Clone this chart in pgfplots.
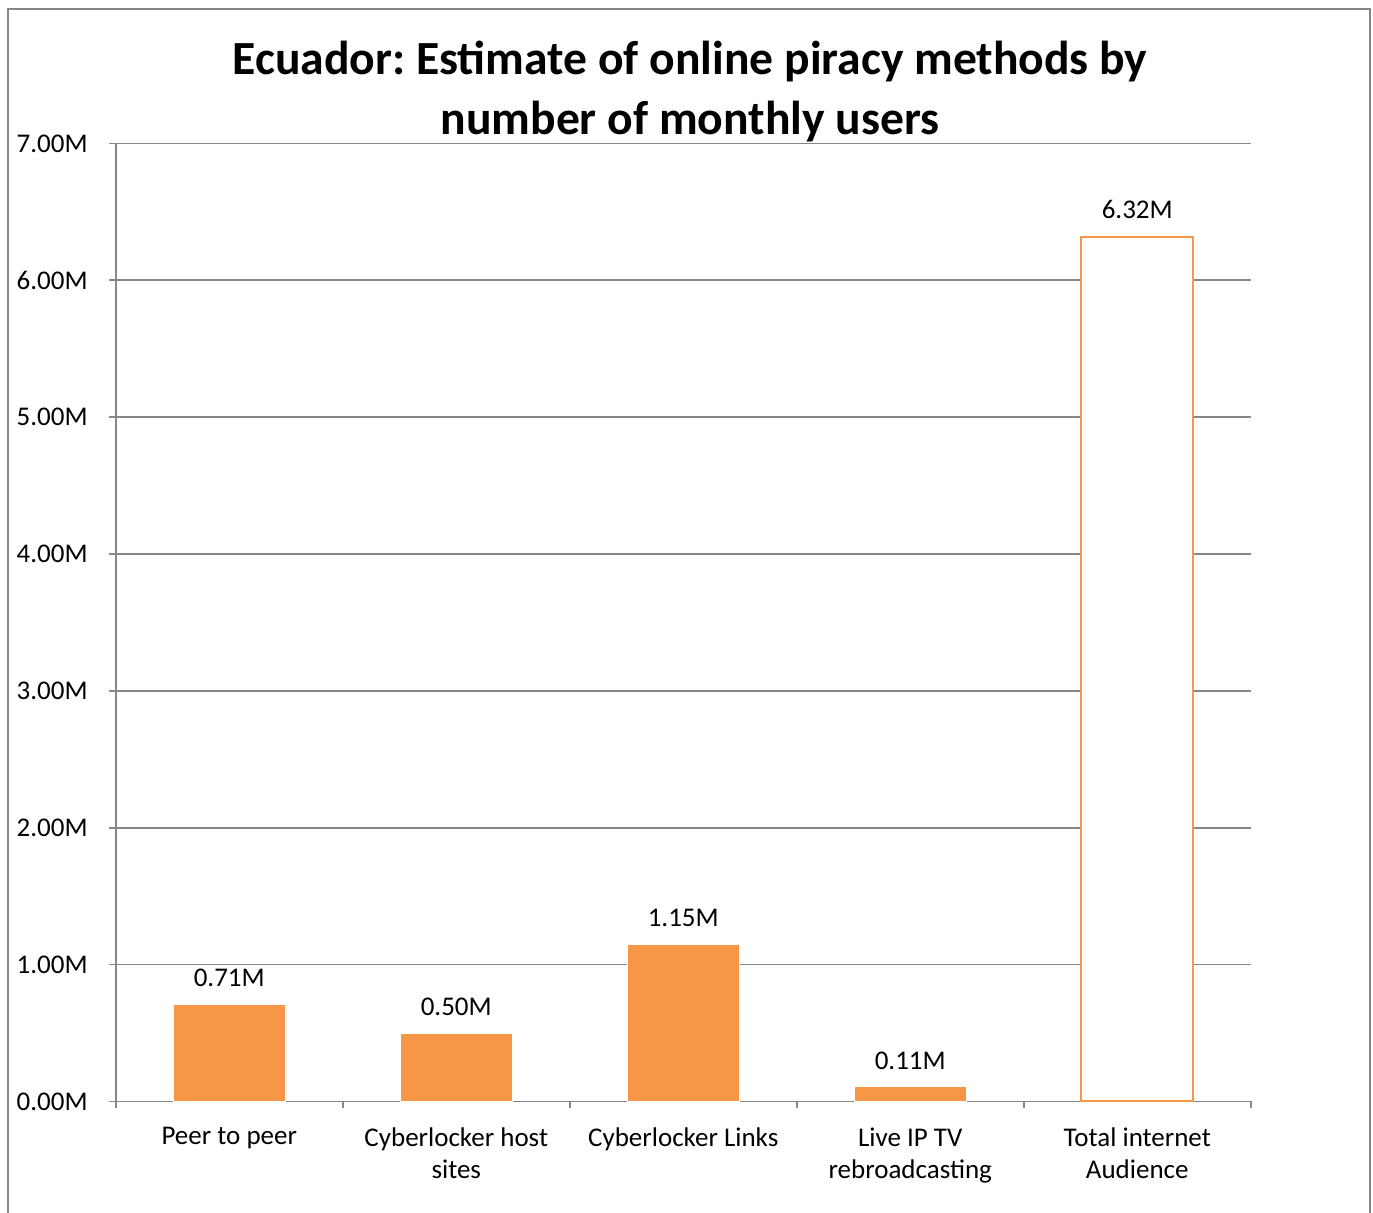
\documentclass[border=0pt]{standalone}
\usepackage{pgfplots}
\pgfplotsset{compat=1.18}
\usepackage{fontspec}
\setmainfont{Carlito}
\frenchspacing
\definecolor{barorange}{HTML}{F79646}
\definecolor{gridgray}{HTML}{878787}
\begin{document}
\begin{tikzpicture}[x=1pt,y=1pt]
\path[use as bounding box] (0,0) rectangle (686.5,606.5);
\draw[gridgray, line width=0.8pt] (4,0) -- (4,602) -- (685,602) -- (685,0);
\node[font=\bfseries\fontsize{23.8}{30}\selectfont, align=center] at (345,560.5) {Ecuador: Estimate of online piracy methods by\\number of monthly users};
\begin{axis}[
  at={(51,81.5)}, anchor=south west,
  scale only axis, width=567.5pt, height=479pt,
  xmin=-0.5, xmax=4.5, ymin=0, ymax=7,
  ytick={0,1,2,3,4,5,6,7},
  yticklabel={\pgfmathprintnumber[fixed,fixed zerofill,precision=2]{\tick}M},
  /pgf/number format/assume math mode=true,
  xtick={-0.5,0.5,1.5,2.5,3.5,4.5},
  x tick label as interval,
  xticklabels={Peer to peer,{Cyberlocker host\\sites},Cyberlocker Links,{Live IP TV\\rebroadcasting},{Total internet\\Audience}},
  axis x line*=bottom, axis y line*=left,
  axis line style={gridgray, line width=0.9pt, -},
  ymajorgrids, grid style={gridgray, line width=0.9pt},
  major tick style={gridgray, line width=0.9pt},
  tick align=outside, major tick length=3.5pt,
  xticklabel style={font=\fontsize{13.5}{16}\selectfont, align=center, yshift=-6pt},
  yticklabel style={font=\fontsize{13.5}{15}\selectfont, xshift=-7pt},
  nodes near coords={\pgfmathprintnumber[fixed,fixed zerofill,precision=2]{\pgfplotspointmeta}M},
  every node near coord/.append style={font=\fontsize{13.5}{15}\selectfont, black, yshift=5pt},
]
\addplot[ybar, bar width=56pt, bar shift=0pt, fill=barorange, draw=white, line width=0.5pt] coordinates {(0,0.71) (1,0.50) (2,1.15) (3,0.11)};
\addplot[ybar, bar width=56pt, bar shift=0pt, fill=white, draw=barorange, line width=1pt] coordinates {(4,6.32)};
\end{axis}
\end{tikzpicture}
\end{document}
